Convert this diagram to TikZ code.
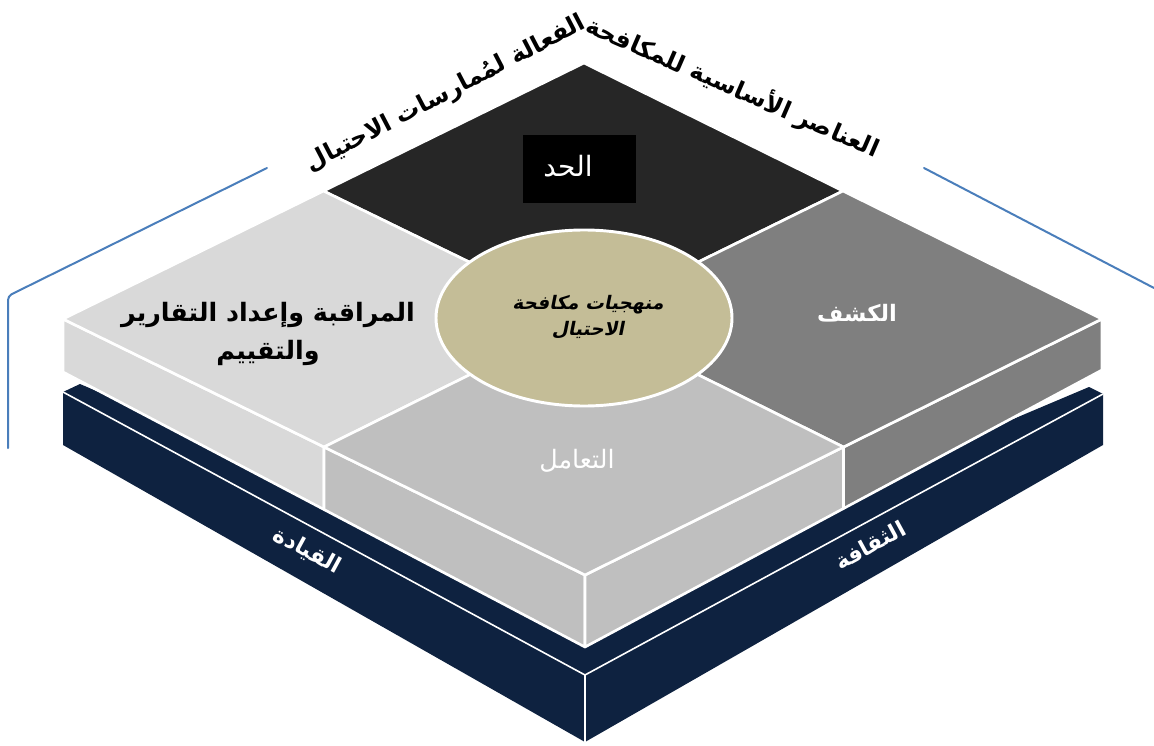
\documentclass[tikz,border=0pt]{standalone}
\usepackage{fontspec}
\TeXXeTstate=1
\newfontfamily\arabicfont[Script=Arabic]{DejaVu Sans}
\newfontfamily\arabicbold[Script=Arabic]{DejaVu Sans Bold}
\newfontfamily\arabicboldslant[Script=Arabic,FakeSlant=0.2]{DejaVu Sans Bold}
\definecolor{navyc}{HTML}{0E2240}
\definecolor{lightq}{HTML}{D9D9D9}
\definecolor{midq}{HTML}{BFBFBF}
\definecolor{darkq}{HTML}{7F7F7F}
\definecolor{blackq}{HTML}{262626}
\definecolor{tanc}{HTML}{C4BD97}
\definecolor{bluec}{HTML}{4A7EBB}
\tikzset{
  face/.style={draw=white, line width=2pt, line join=round},
  bracket/.style={draw=bluec, line width=1.5pt, line cap=round},
  lbl/.style={inner sep=0pt, align=center},
}
\begin{document}
\begin{tikzpicture}[x=0.75pt,y=-0.75pt]
\useasboundingbox (0,0) rectangle (1154,746);
% key points
\coordinate (T) at (584,63);
\coordinate (L) at (63,319);
\coordinate (R) at (1102,319);
\coordinate (F) at (585,575);
\coordinate (C) at (584,318);
\coordinate (mTL) at (323.5,191);
\coordinate (mTR) at (843,191);
\coordinate (mLF) at (324,447);
\coordinate (mRF) at (843.5,447);
\coordinate (Lb) at (63,372);
\coordinate (Fb) at (585,647);
\coordinate (Rb) at (1102,370);
\coordinate (mLFb) at (324,509.5);
\coordinate (mRFb) at (843.5,508.5);
% navy base
\coordinate (N1) at (63,392);
\coordinate (N1b) at (63,445);
\coordinate (NF) at (585,675);
\coordinate (NFb) at (585,742);
\coordinate (NR) at (1103,394);
\coordinate (NRb) at (1103,445);
\fill[navyc] (N1) -- (80,384) -- (585,600) -- (1089,387) -- (NR) -- (NRb) -- (NFb) -- (N1b) -- cycle;
\draw[white, line width=1.2pt] (N1) -- (NF) -- (NR);
\draw[white, line width=1.2pt] (NF) -- (NFb);
% side faces of the slab
\filldraw[face, fill=lightq] (L) -- (mLF) -- (mLFb) -- (Lb) -- cycle;
\filldraw[face, fill=midq] (mLF) -- (F) -- (Fb) -- (mLFb) -- cycle;
\filldraw[face, fill=midq] (F) -- (mRF) -- (mRFb) -- (Fb) -- cycle;
\filldraw[face, fill=darkq] (mRF) -- (R) -- (Rb) -- (mRFb) -- cycle;
% top quadrants
\filldraw[face, fill=blackq] (T) -- (mTR) -- (C) -- (mTL) -- cycle;
\filldraw[face, fill=lightq] (mTL) -- (C) -- (mLF) -- (L) -- cycle;
\filldraw[face, fill=darkq] (mTR) -- (R) -- (mRF) -- (C) -- cycle;
\filldraw[face, fill=midq] (C) -- (mRF) -- (F) -- (mLF) -- cycle;
% centre ellipse
\filldraw[fill=tanc, draw=white, line width=2.2pt] (C) ellipse [x radius=111pt, y radius=66pt];
% black box
\node (hbox) [fill=black, minimum width=84.75pt, minimum height=51pt, inner sep=0pt] at (579.5,169) {};
\node (hadd) [lbl, text=white, font=\fontsize{21}{24}\arabicfont] at (568,166) {\beginR الحد\endR};
% labels
\node (kashf) [lbl, text=white, font=\fontsize{17}{20}\arabicbold] at (857,313) {\beginR الكشف\endR};
\node (taamul) [lbl, text=white, font=\fontsize{19}{22}\arabicfont] at (577,461) {\beginR التعامل\endR};
\node (muraqaba) [lbl, text=black, font=\fontsize{19}{28}\arabicbold] at (268,334) {\beginR المراقبة وإعداد التقارير\endR\\\beginR والتقييم\endR};
\node (manhaj) [lbl, text=black, font=\fontsize{14}{20}\arabicboldslant] at (588,317) {\beginR منهجيات مكافحة\endR\\\beginR الاحتيال\endR};
\node (qiyada) [lbl, text=white, font=\fontsize{16.5}{18}\arabicbold, rotate=-28.5] at (307,551) {\beginR القيادة\endR};
\node (thaqafa) [lbl, text=white, font=\fontsize{16.5}{18}\arabicbold, rotate=28.5] at (870,545) {\beginR الثقافة\endR};
% title
\node (titleR) [lbl, text=black, font=\fontsize{18}{22}\arabicbold, rotate=-23.5] at (733,87) {\beginR العناصر الأساسية للمكافحة\endR};
\node (titleL) [lbl, text=black, font=\fontsize{18}{22}\arabicbold, rotate=27.5] at (446,94) {\beginR الفعالة لمُمارسات الاحتيال\endR};
% blue brackets
\coordinate (bl1) at (267,168);
\coordinate (bl2) at (8,296);
\coordinate (bl3) at (8,448);
\coordinate (br1) at (924,168);
\coordinate (br2) at (1154,288);
\draw[bracket, rounded corners=3pt] (bl1) -- (bl2) -- (bl3);
\draw[bracket] (br1) -- (br2);
\end{tikzpicture}
\end{document}
